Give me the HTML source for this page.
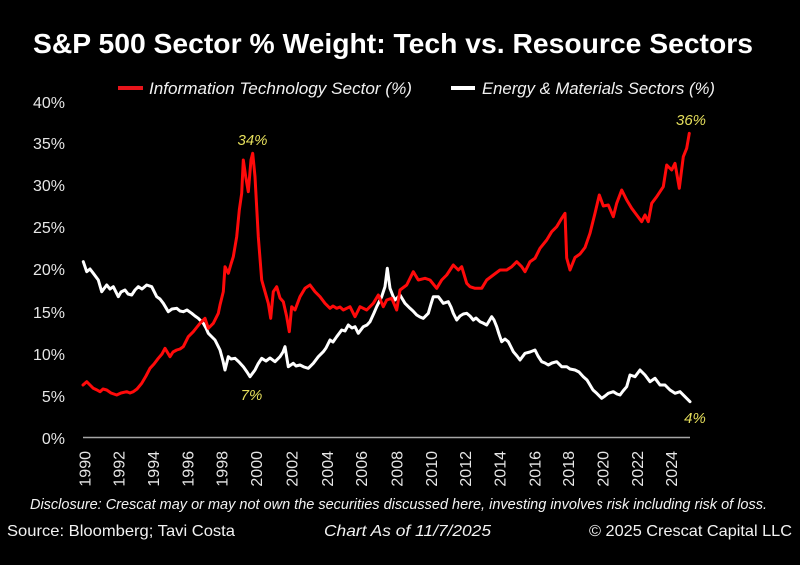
<!DOCTYPE html>
<html>
<head>
<meta charset="utf-8">
<style>
  html, body { margin: 0; padding: 0; background: #000; }
  body { width: 800px; height: 565px; overflow: hidden; }
  svg { display: block; }
  text { font-family: "Liberation Sans", "DejaVu Sans", sans-serif; }
</style>
</head>
<body>
<svg width="800" height="565" viewBox="0 0 800 565" xmlns="http://www.w3.org/2000/svg">
  <rect x="0" y="0" width="800" height="565" fill="#000"/>

  <!-- Title -->
  <text x="33" y="53" font-size="28" font-weight="bold" fill="#ffffff" textLength="720" lengthAdjust="spacingAndGlyphs">S&amp;P 500 Sector % Weight: Tech vs. Resource Sectors</text>

  <!-- Legend -->
  <line x1="118" y1="88" x2="143" y2="88" stroke="#e8141b" stroke-width="4"/>
  <text x="149" y="94" font-size="17" font-style="italic" fill="#f2f2f2" textLength="263" lengthAdjust="spacingAndGlyphs">Information Technology Sector (%)</text>
  <line x1="451" y1="88" x2="475" y2="88" stroke="#ffffff" stroke-width="4"/>
  <text x="482" y="94" font-size="17" font-style="italic" fill="#f2f2f2" textLength="233" lengthAdjust="spacingAndGlyphs">Energy &amp; Materials Sectors (%)</text>

  <!-- Y axis labels -->
  <g font-size="16" fill="#e6e6e6" text-anchor="end">
    <text x="65" y="108">40%</text>
    <text x="65" y="149">35%</text>
    <text x="65" y="191">30%</text>
    <text x="65" y="233">25%</text>
    <text x="65" y="275">20%</text>
    <text x="65" y="318">15%</text>
    <text x="65" y="360">10%</text>
    <text x="65" y="402">5%</text>
    <text x="65" y="444">0%</text>
  </g>

  <!-- Axis line -->
  <line x1="83" y1="437.5" x2="690" y2="437.5" stroke="#a6a6a6" stroke-width="1.5"/>

  <!-- X axis labels (rotated) -->
  <g font-size="16" fill="#e6e6e6" text-anchor="end">
    <text transform="translate(90.5,451) rotate(-90)">1990</text>
    <text transform="translate(124.3,451) rotate(-90)">1992</text>
    <text transform="translate(158.8,451) rotate(-90)">1994</text>
    <text transform="translate(193.3,451) rotate(-90)">1996</text>
    <text transform="translate(227.5,451) rotate(-90)">1998</text>
    <text transform="translate(262.2,451) rotate(-90)">2000</text>
    <text transform="translate(297.5,451) rotate(-90)">2002</text>
    <text transform="translate(332.8,451) rotate(-90)">2004</text>
    <text transform="translate(367.2,451) rotate(-90)">2006</text>
    <text transform="translate(402.5,451) rotate(-90)">2008</text>
    <text transform="translate(437.2,451) rotate(-90)">2010</text>
    <text transform="translate(470.8,451) rotate(-90)">2012</text>
    <text transform="translate(505.5,451) rotate(-90)">2014</text>
    <text transform="translate(540.5,451) rotate(-90)">2016</text>
    <text transform="translate(573.8,451) rotate(-90)">2018</text>
    <text transform="translate(608.5,451) rotate(-90)">2020</text>
    <text transform="translate(642.8,451) rotate(-90)">2022</text>
    <text transform="translate(677.2,451) rotate(-90)">2024</text>
  </g>

  <!-- White series: Energy & Materials -->
  <polyline fill="none" stroke="#ffffff" stroke-width="3" stroke-linejoin="round" stroke-linecap="round"
    points="83.3,261.7 86.7,271.7 90,269 93.3,273.3 98.3,280 101.7,291.7 106.7,285 110,289 113.3,286.7 118.3,296.7 121,292 125,290 128,294 131.7,295 135,290 138.3,286.7 142,289 146.7,285 151.7,286.7 156.7,296.7 160,299 163.3,303.3 168.3,311.7 172,309 176.7,308.3 180,311 183.3,311.7 187,310 191.7,313.3 195,316 198.3,318.3 203.3,323.3 206,328 208.3,333.3 212,337 215,340 218,346 220,350 223,361 225,370 228.3,356.7 231,359 235,358.3 239,362 243.3,366.7 247,372 250,376.7 255,370 258,364 261.7,358.3 266,361 270,358 275,361.7 280,356.7 283,352 285,346.7 288.3,366.7 293.3,363.3 296,366 300,365 304,367 308.3,368.3 313.3,363.3 318.3,356.7 323.3,351.7 326,348 330,340 333,342 336.7,336.7 341.7,330 345,331 348.3,325 352,328 355,326.7 358.3,333.3 363.3,326.7 367,325 370,321.7 374,313 376.7,306.7 381.7,296.7 385,286.7 387.3,268.3 390,288.3 393,296 395,300 400,295 405,303.3 410,308.3 413,311 416.7,315 420,317 423.3,318.3 428.3,313.3 431,304 433.3,296.7 438.3,296.7 443.3,303.3 448.3,301.7 451,307 453.3,313.3 456.7,320 460,316 463.3,314 466.7,313.3 470,316 473.3,320 476,318 480,321.7 483,323 486.7,325 491.7,316.7 494,320 496.7,326.7 499,334 501.7,341.7 505,339 508.3,341.7 511,347 513.3,351.7 517,356 520,360 525,353.3 530,352 535,350 538,356 541.7,361.7 545,363 548.3,365 552,363 556.7,361.7 561.7,366.7 566.7,366.7 570,369 575,370 579,372 583.3,376.7 587,380 590,385 593,390 596.7,393.3 601.7,398.3 605,396 608.3,393.3 613.3,391.7 617,394 620,395 623,391 626.7,386.7 630,375 635,376.7 640,370 645,375 650,381.7 655,378.3 660,385 665,385 670,390 675,393.3 680,391.7 685,396.7 690,401.7"/>

  <!-- Red series: Information Technology -->
  <polyline fill="none" stroke="#ff0a0a" stroke-width="3" stroke-linejoin="round" stroke-linecap="round"
    points="83,385 86.7,381.7 90,385 93.3,388.3 97,390 100,391.7 103,389 106.7,390 111,393 116.7,395 121,393 126.7,391.7 130,393 133.3,391.7 137,389 141.7,383.3 146,376 150,368.3 154,364 158.3,358.3 162,354 165,348.3 170,356.7 173,352 176.7,350 180,349 183.3,346.7 188.3,336.7 193.3,331.7 197,327 200,323.3 205,318.3 208.3,328.3 213.3,323.3 218.3,313.3 220,305 223.3,291.7 225,266.7 228.3,273.3 231,264 233.3,256.7 236.7,236.7 239.3,210 241.7,193.3 243.3,160 245.7,176.7 248.3,191.7 251,160 252.7,153.3 255,176.7 258.3,236.7 261.7,280 265,291.7 268.3,303.3 270.7,318.3 273.3,291.7 276.7,286.7 280,298 283.3,301.7 286.7,316.7 289.3,331.7 291.7,306.7 295,310 300,296.7 305,288.3 310,285 315,291.7 320,296.7 325,303.3 330,308.3 333,306 336.7,308.3 340,307 343.3,310 350,306.7 355,316.7 360,306.7 366.7,310 373.3,303.3 378.3,295 383.3,306.7 386.7,300 391.7,298.3 396.7,310 400,290 406.7,285 413.3,271.7 418.3,280 425,278.3 430,280 436.7,288.3 441.7,280 446.7,275 453.3,265 458.3,270 461.7,266.7 466.7,283.3 470,286.7 475,288.3 481.7,288.3 486.7,280 493.3,275 500,270 506.7,270 511.7,266.7 516.7,261.7 521.7,266.7 525,271.7 530,261.7 535,258.3 540,248.3 546.7,240 551.7,231.7 556.7,226.7 561.7,218.3 565,213.3 566.7,258 570,270 575,257.5 580,254 585,247.5 590,233.3 595,213.3 599.3,195 603.3,206 608.3,205 613.3,216.7 616.7,203.3 621.7,190 626.7,200 631.7,208.3 636.7,215 641.7,221.7 645,215 648.3,221.7 651.7,203.3 656.7,196.7 660,191.7 663.3,186.7 666.7,165 671.7,170 675,163.3 679.3,188.3 683.3,156.7 686.7,148.3 689.3,133.3"/>

  <!-- Annotations -->
  <g font-size="15" font-style="italic" fill="#e6df5c" text-anchor="middle">
    <text x="252.5" y="145">34%</text>
    <text x="251.5" y="400">7%</text>
    <text x="691" y="125">36%</text>
    <text x="695" y="423">4%</text>
  </g>

  <!-- Footer -->
  <text x="30" y="509" font-size="15" font-style="italic" fill="#f2f2f2" textLength="737" lengthAdjust="spacingAndGlyphs">Disclosure: Crescat may or may not own the securities discussed here, investing involves risk including risk of loss.</text>
  <text x="7" y="536" font-size="16" fill="#f2f2f2" textLength="228" lengthAdjust="spacingAndGlyphs">Source: Bloomberg; Tavi Costa</text>
  <text x="324" y="536" font-size="16" font-style="italic" fill="#f2f2f2" textLength="167" lengthAdjust="spacingAndGlyphs">Chart As of 11/7/2025</text>
  <text x="589" y="536" font-size="16" fill="#f2f2f2" textLength="203" lengthAdjust="spacingAndGlyphs">© 2025 Crescat Capital LLC</text>
</svg>
</body>
</html>
